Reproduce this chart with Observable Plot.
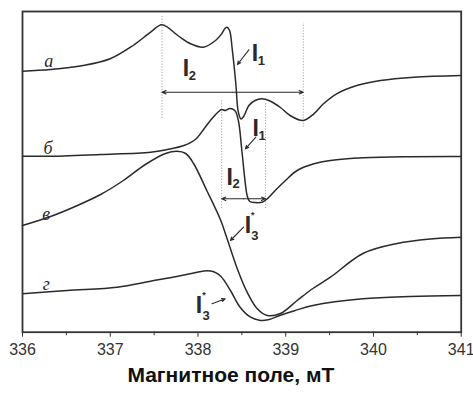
<!DOCTYPE html>
<html>
<head>
<meta charset="utf-8">
<script src="https://cdn.jsdelivr.net/npm/d3@7"></script>
<script src="https://cdn.jsdelivr.net/npm/@observablehq/plot@0.6"></script>
<style>
  html, body { margin: 0; padding: 0; background: #fff; }
  #chart svg { display: block; }
</style>
</head>
<body>
<div id="chart"></div>
<script>
// ---- data (field in mT, signal in arbitrary units) ----
const majorTicks = [336, 337, 338, 339, 340, 341];
const minorTicks = [336.5, 337.5, 338.5, 339.5, 340.5];
const axisTitle = "Магнитное поле, мТ";

const curveA = [
  [336.00, 261], [336.32, 262.7], [336.69, 266.7], [337.00, 273.5], [337.26, 286.7],
  [337.46, 300], [337.59, 307.4], [337.77, 296.7], [337.91, 288.7], [338.06, 285],
  [338.20, 291.7], [338.27, 298.4], [338.31, 304], [338.33, 305], [338.36, 301.7],
  [338.39, 283.4], [338.43, 250], [338.46, 220], [338.49, 213.2], [338.52, 215.7],
  [338.58, 226.7], [338.65, 231.7], [338.73, 233.4], [338.82, 231.2], [338.94, 224.7],
  [339.05, 216.7], [339.20, 211.7], [339.32, 218.4], [339.43, 228.4], [339.58, 238.4],
  [339.81, 246.7], [340.08, 251.7], [340.46, 255], [341.00, 256.7]
];
const curveB = [
  [336.00, 176], [336.32, 176], [336.89, 177.7], [337.46, 180], [337.65, 182.7],
  [337.84, 186.7], [337.97, 192.7], [338.08, 204.7], [338.18, 215.7], [338.27, 222.7],
  [338.31, 221.7], [338.36, 223.7], [338.42, 221.7], [338.46, 211.7], [338.50, 181.7],
  [338.54, 148.4], [338.56, 136.7], [338.59, 130.7], [338.65, 129.7], [338.73, 130],
  [338.79, 133.4], [338.88, 141.7], [339.00, 152], [339.13, 161.7], [339.32, 168.4],
  [339.51, 171.7], [339.89, 174.4], [340.40, 175.5], [341.00, 175.7]
];
const curveV = [
  [336.00, 106.7], [336.32, 115.7], [336.60, 125.7], [336.89, 137.7], [337.15, 151.7],
  [337.40, 167.7], [337.63, 178.7], [337.76, 181], [337.86, 178.7], [337.95, 168.7],
  [338.10, 141.7], [338.26, 111.7], [338.33, 94], [338.45, 63], [338.56, 40],
  [338.67, 24], [338.79, 16.7], [338.94, 18.7], [339.13, 31.7], [339.31, 43.7],
  [339.51, 55], [339.88, 78.7], [340.27, 88.7], [340.65, 93.2], [341.00, 95]
];
const curveG = [
  [336.00, 38.4], [336.51, 41.7], [337.08, 45], [337.46, 51], [337.80, 56.5],
  [337.99, 60], [338.10, 61.5], [338.18, 60.5], [338.26, 56], [338.37, 41.7],
  [338.48, 25], [338.60, 15], [338.70, 12], [338.80, 12.5], [338.94, 17],
  [339.10, 21.5], [339.31, 26.7], [339.88, 33.4], [340.42, 35.7], [341.00, 36.7]
];

const curveNames = ["а", "б", "в", "г"];
const curveNameAt = [[336.30, 270.5], [336.29, 184.2], [336.27, 117.5], [336.27, 47.5]];

const guideField = [337.59, 339.20, 338.27, 338.77];
const guideFrom = [213.7, 205, 123.7, 123.7];
const guideTo = [316.7, 309, 231.7, 228.7];

const spanFrom = [337.59, 338.27];
const spanTo = [339.20, 338.77];
const spanLevel = [240, 133.4];

const pointerFrom = [[338.58, 282.4], [338.66, 195], [338.52, 105], [338.16, 28.4]];
const pointerTo = [[338.45, 267.7], [338.54, 183.4], [338.37, 91.7], [338.31, 33.4]];

const lineLabels = ["I", "I", "I", "I", "I", "I"];
const lineLabelSub = ["2", "1", "1", "2", "3", "3"];
const lineLabelStar = ["", "", "", "", "*", "*"];
const lineLabelAt = [[337.862, 263.4], [338.648, 278.2], [338.657, 203.4], [338.36, 155], [338.568, 106.7], [338.012, 26.7]];

// ---- tables built from the arrays ----
const toRows = (arr, name) => arr.map(([B, v]) => ({B, v, name}));
const curves = [
  ...toRows(curveA, "а"), ...toRows(curveB, "б"),
  ...toRows(curveV, "в"), ...toRows(curveG, "г")
];
const nameRows = curveNames.map((t, i) => ({t, B: curveNameAt[i][0], v: curveNameAt[i][1]}));
const guides = guideField.map((B, i) => ({B, v1: guideFrom[i], v2: guideTo[i]}));
const spans = spanFrom.flatMap((x1, i) => {
  const mid = (x1 + spanTo[i]) / 2;
  return [
    {x1: mid, x2: x1, v: spanLevel[i]},
    {x1: mid, x2: spanTo[i], v: spanLevel[i]}
  ];
});
const pointers = pointerFrom.map((p, i) => ({x1: p[0], y1: p[1], x2: pointerTo[i][0], y2: pointerTo[i][1]}));
const labels = lineLabels.map((t, i) => ({t, sub: lineLabelSub[i], star: lineLabelStar[i], B: lineLabelAt[i][0], v: lineLabelAt[i][1]}));

const ink = "#2a2a2a";
const sans = "'Liberation Sans', Arial, Helvetica, sans-serif";
const serif = "'Liberation Serif', 'Times New Roman', serif";

const chart = Plot.plot({
  width: 473,
  height: 394,
  marginLeft: 22,
  marginRight: 12.3,
  marginTop: 11,
  marginBottom: 62.3,
  style: {fontFamily: sans, color: ink, background: "#fff"},
  x: {domain: [336, 341]},
  y: {domain: [0, 320.7], axis: null},
  marks: [
    Plot.ruleX(guides, {x: "B", y1: "v1", y2: "v2", stroke: "#9a9a9a", strokeWidth: 0.9, strokeDasharray: "1.2,1.6"}),
    Plot.line(curves, {x: "B", y: "v", z: "name", curve: "catmull-rom", stroke: ink, strokeWidth: 1.5}),
    Plot.arrow(spans, {x1: "x1", x2: "x2", y1: "v", y2: "v", stroke: ink, strokeWidth: 1.1, headLength: 6, headAngle: 45}),
    Plot.arrow(pointers, {x1: "x1", y1: "y1", x2: "x2", y2: "y2", stroke: ink, strokeWidth: 1.1, headLength: 5, headAngle: 50}),
    Plot.text(nameRows, {x: "B", y: "v", text: "t", fontFamily: serif, fontStyle: "italic", fontSize: 18, fill: ink}),
    Plot.text(labels, {x: "B", y: "v", text: "t", fontFamily: sans, fontWeight: "bold", fontSize: 23, fill: ink}),
    Plot.text(labels.filter(d => !d.star), {x: "B", y: "v", text: "sub", dx: 6.5, dy: 7, fontFamily: sans, fontWeight: "bold", fontSize: 13, fill: ink}),
    Plot.text(labels.filter(d => d.star), {x: "B", y: "v", text: "sub", dx: 7, dy: 10.5, fontFamily: sans, fontWeight: "bold", fontSize: 13, fill: ink}),
    Plot.text(labels.filter(d => d.star), {x: "B", y: "v", text: "star", dx: 5, dy: -10, fontFamily: sans, fontWeight: "bold", fontSize: 9, fill: ink}),
    Plot.frame({stroke: "#333", strokeWidth: 1.8}),
    Plot.axisX(majorTicks, {tickSize: 5, tickPadding: 6, fontSize: 16, stroke: "#333", fill: "#333", label: null, tickFormat: d => String(d)}),
    Plot.axisX(minorTicks, {tickSize: 3.5, stroke: "#333", label: null, tickFormat: () => ""}),
    Plot.text([axisTitle], {frameAnchor: "bottom", dy: 50, dx: -11, fontSize: 21, fontWeight: "bold", fill: "#111", fontFamily: sans})
  ]
});
document.getElementById("chart").appendChild(chart);
</script>
</body>
</html>
